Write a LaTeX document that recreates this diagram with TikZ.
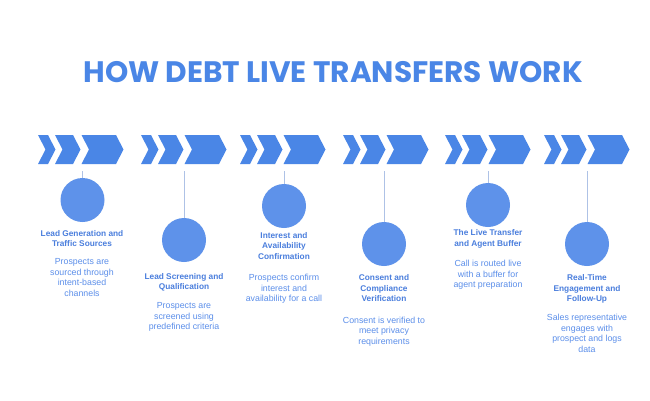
\documentclass[tikz,border=0pt]{standalone}
\usepackage{fontspec}
\setmainfont{Liberation Sans}
\newfontfamily\headfont{Poppins}[BoldFont={Poppins Bold}]
\definecolor{chev}{HTML}{4A86E6}
\definecolor{circ}{HTML}{5E92EA}
\definecolor{ttl}{HTML}{4A7EDD}
\definecolor{dsc}{HTML}{5C8FEA}
\definecolor{conn}{HTML}{AEC2E6}
\begin{document}
\begin{tikzpicture}[x=1pt,y=-1pt,
  dot/.style={circle,fill=circ,minimum size=44pt,inner sep=0pt},
  stepttl/.style={anchor=north,inner sep=0pt,align=center,text=ttl,font=\fontsize{8.3}{10.5}\selectfont\bfseries},
  stepdsc/.style={anchor=north,inner sep=0pt,align=center,text=dsc,font=\fontsize{8.8}{10.5}\selectfont},
  link/.style={draw=conn,line width=0.8pt},
  chevshape/.style={fill=chev}]
\useasboundingbox (0,0) rectangle (650,400);
\fill[white] (0,0) rectangle (650,400);
\node[text=chev,font=\headfont\bfseries\fontsize{29.6}{30}\selectfont] (title) at (333,72.5) {HOW DEBT LIVE TRANSFERS WORK};
% chevron groups
\foreach \g in {38,141,240,343,445,544}{
  \begin{scope}[shift={(\g,0)}]
    \fill[chevshape] (0,135) -- (10,135) -- (17.5,149.5) -- (10,164) -- (0,164) -- (7.5,149.5) -- cycle;
    \fill[chevshape] (17,135) -- (35,135) -- (42.5,149.5) -- (35,164) -- (17,164) -- (24.5,149.5) -- cycle;
    \fill[chevshape] (43.5,135) -- (78,135) -- (85.5,149.5) -- (78,164) -- (43.5,164) -- (51,149.5) -- cycle;
  \end{scope}
}
% circles
\node[dot] (c1) at (82.5,200) {};
\node[dot] (c2) at (184,240) {};
\node[dot] (c3) at (284,206) {};
\node[dot] (c4) at (384,244) {};
\node[dot] (c5) at (488,205) {};
\node[dot] (c6) at (587,244) {};
% connector start points
\coordinate (l1) at (82.5,171);
\coordinate (l2) at (184,171);
\coordinate (l3) at (284,171);
\coordinate (l4) at (384,171);
\coordinate (l5) at (488,171);
\coordinate (l6) at (587,171);
\foreach \i in {1,...,6}{\draw[link] (l\i) -- (c\i.north);}
% titles
\node[stepttl] (t1) at (82,230) {Lead Generation and\\Traffic Sources};
\node[stepttl] (t2) at (184,273) {Lead Screening and\\Qualification};
\node[stepttl] (t3) at (284,232) {Interest and\\Availability\\Confirmation};
\node[stepttl] (t4) at (384,274.5) {Consent and\\Compliance\\Verification};
\node[stepttl] (t5) at (488,229.5) {The Live Transfer\\and Agent Buffer};
\node[stepttl] (t6) at (587,274.5) {Real-Time\\Engagement and\\Follow-Up};
% descriptions
\node[stepdsc] (d1) at (82,258.5) {Prospects are\\sourced through\\intent-based\\channels};
\node[stepdsc] (d2) at (184,302.5) {Prospects are\\screened using\\predefined criteria};
\node[stepdsc] (d3) at (284,274) {Prospects confirm\\interest and\\availability for a call};
\node[stepdsc] (d4) at (384,316.5) {Consent is verified to\\meet privacy\\requirements};
\node[stepdsc] (d5) at (488,260) {Call is routed live\\with a buffer for\\agent preparation};
\node[stepdsc] (d6) at (587,314) {Sales representative\\engages with\\prospect and logs\\data};
\end{tikzpicture}
\end{document}
